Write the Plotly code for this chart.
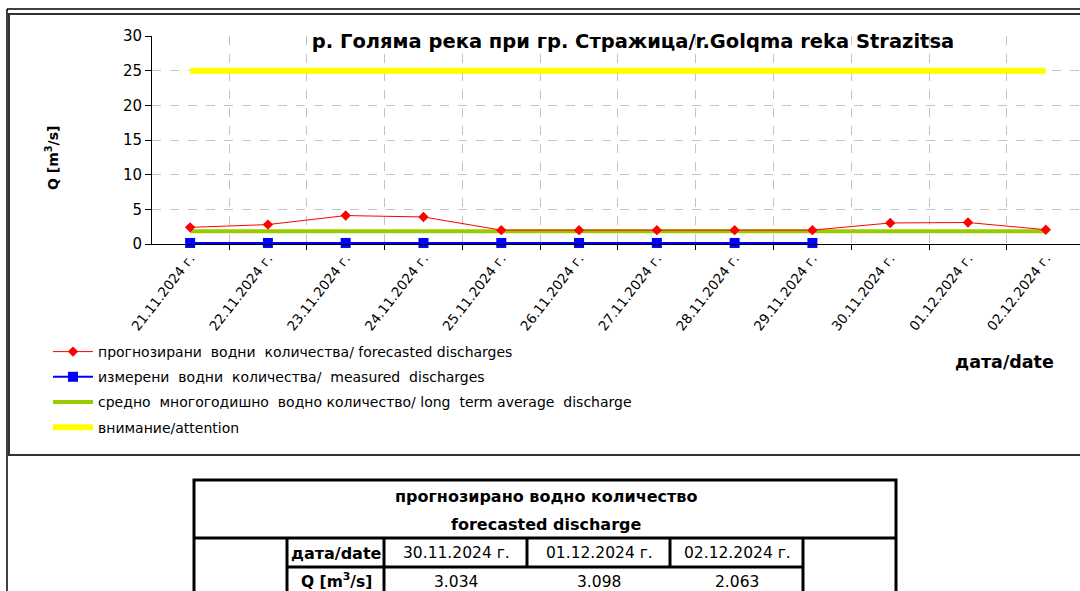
import plotly.graph_objects as go

W, H = 1080, 591

dates = ["21.11.2024 г.", "22.11.2024 г.", "23.11.2024 г.", "24.11.2024 г.",
         "25.11.2024 г.", "26.11.2024 г.", "27.11.2024 г.", "28.11.2024 г.",
         "29.11.2024 г.", "30.11.2024 г.", "01.12.2024 г.", "02.12.2024 г."]
forecast = [2.4, 2.8, 4.1, 3.9, 2.0, 2.0, 2.0, 2.0, 2.0, 3.034, 3.098, 2.063]
measured = [0.15, 0.15, 0.15, 0.15, 0.15, 0.15, 0.15, 0.15, 0.15]
average = [1.85] * 12
attention = [25] * 12

table_dates = ["30.11.2024 г.", "01.12.2024 г.", "02.12.2024 г."]
table_q = ["3.034", "3.098", "2.063"]

FONT = "DejaVu Sans, Verdana, sans-serif"
NB = "\u00a0"


def px(x):
    return x / W


def py(y):
    return 1 - y / H


fig = go.Figure()
fig.add_trace(go.Scatter(x=dates, y=attention, mode="lines", name="внимание/attention",
                         line=dict(color="#ffff00", width=6), legendrank=4, legendgroup="d"))
fig.add_trace(go.Scatter(x=dates, y=average, mode="lines",
                         name=f"средно{NB}{NB}многогодишно{NB}{NB}водно количество/ long{NB}{NB}term average{NB}{NB}discharge",
                         line=dict(color="#99cc00", width=4), legendrank=3, legendgroup="c"))
fig.add_trace(go.Scatter(x=dates, y=forecast, mode="lines+markers",
                         name=f"прогнозирани{NB}{NB}водни{NB}{NB}количества/ forecasted{NB}discharges",
                         line=dict(color="#ff0000", width=1),
                         marker=dict(symbol="diamond", size=8, color="#ff0000"),
                         legendrank=1, legendgroup="a", cliponaxis=False))
fig.add_trace(go.Scatter(x=dates[:len(measured)], y=measured, mode="lines+markers",
                         name=f"измерени{NB}{NB}водни{NB}{NB}количества/{NB}{NB}measured{NB}{NB}discharges",
                         line=dict(color="#0000ff", width=2),
                         marker=dict(symbol="square", size=10, color="#0000ff"),
                         legendrank=2, legendgroup="b", cliponaxis=False))

fig.update_xaxes(type="category", categoryorder="array", categoryarray=dates,
                 range=[-0.49, 11.44], domain=[px(152), 1], automargin=False,
                 tickson="boundaries", ticks="outside", ticklen=5, tickcolor="black",
                 showgrid=True, gridcolor="#c4c4c4", griddash="dash", gridwidth=1,
                 showline=True, linecolor="black", linewidth=1,
                 tickangle=-52, tickfont=dict(family=FONT, size=13.5, color="black"))
fig.update_yaxes(range=[0, 30], dtick=5, domain=[py(244), py(36)], automargin=False,
                 ticks="outside", ticklen=6, tickcolor="black",
                 showgrid=True, gridcolor="#c4c4c4", griddash="dash", gridwidth=1,
                 showline=True, linecolor="black", linewidth=1, zeroline=False,
                 tickfont=dict(family=FONT, size=15, color="black"))

shapes = []
# frames
shapes.append(dict(type="line", xref="paper", yref="paper", x0=px(7), x1=1.0, y0=py(9), y1=py(9),
                   line=dict(color="black", width=1.5)))
shapes.append(dict(type="line", xref="paper", yref="paper", x0=px(7), x1=px(7), y0=py(9), y1=0,
                   line=dict(color="black", width=1.5)))
shapes.append(dict(type="rect", xref="paper", yref="paper", x0=px(9), x1=px(1085), y0=py(455), y1=py(14),
                   line=dict(color="#333333", width=2)))
# table
tb = dict(color="black", width=3)
shapes.append(dict(type="rect", xref="paper", yref="paper", x0=px(194), x1=px(896), y0=py(596), y1=py(480), line=tb))
shapes.append(dict(type="line", xref="paper", yref="paper", x0=px(194), x1=px(896), y0=py(538), y1=py(538), line=tb))
shapes.append(dict(type="line", xref="paper", yref="paper", x0=px(287), x1=px(803), y0=py(567), y1=py(567), line=tb))
for xv, ybot in [(287, 596), (384, 596), (527, 567), (670, 567), (803, 596)]:
    shapes.append(dict(type="line", xref="paper", yref="paper", x0=px(xv), x1=px(xv), y0=py(538), y1=py(ybot), line=tb))

BOLD = dict(family=FONT, color="black", weight="bold")
ann = []


def add_text(text, x, y, font, angle=0):
    ann.append(dict(text=text, x=px(x), y=py(y), xref="paper", yref="paper", textangle=angle,
                    xanchor="center", yanchor="middle", showarrow=False, font=font))


add_text("Q [m<sup>3</sup>/s]", 52, 158, dict(BOLD, size=14), angle=-90)
add_text("дата/date", 1004, 362, dict(BOLD, size=17.5))
add_text("прогнозирано водно количество", 546, 496, dict(BOLD, size=16))
add_text("forecasted discharge", 546, 524, dict(BOLD, size=16))
add_text("дата/date", 336, 553, dict(BOLD, size=16))
add_text("Q [m<sup>3</sup>/s]", 336, 580, dict(BOLD, size=15.5))
for cx, d, q in zip([456, 599, 737], table_dates, table_q):
    add_text(d, cx, 553, dict(family=FONT, size=15.5, color="black"))
    add_text(q, cx, 582, dict(family=FONT, size=15.5, color="black"))

fig.update_layout(
    width=W, height=H, margin=dict(l=0, r=0, t=0, b=0, autoexpand=False),
    paper_bgcolor="white", plot_bgcolor="white",
    title=dict(text="<b>р. Голяма река при гр. Стражица/r.Golqma reka Strazitsa</b>",
               x=px(633), y=py(41), xanchor="center", yanchor="middle", xref="paper", yref="paper",
               font=dict(family=FONT, size=19.5, color="black")),
    legend=dict(x=px(48), y=py(336), xanchor="left", yanchor="top", orientation="v",
                font=dict(family=FONT, size=14, color="black"), tracegroupgap=4,
                bgcolor="rgba(0,0,0,0)", itemwidth=40),
    shapes=shapes, annotations=ann,
)

fig.write_html("out.html", config={"displayModeBar": False},
               post_script="document.body.style.margin='0';document.body.style.overflow='hidden';")
